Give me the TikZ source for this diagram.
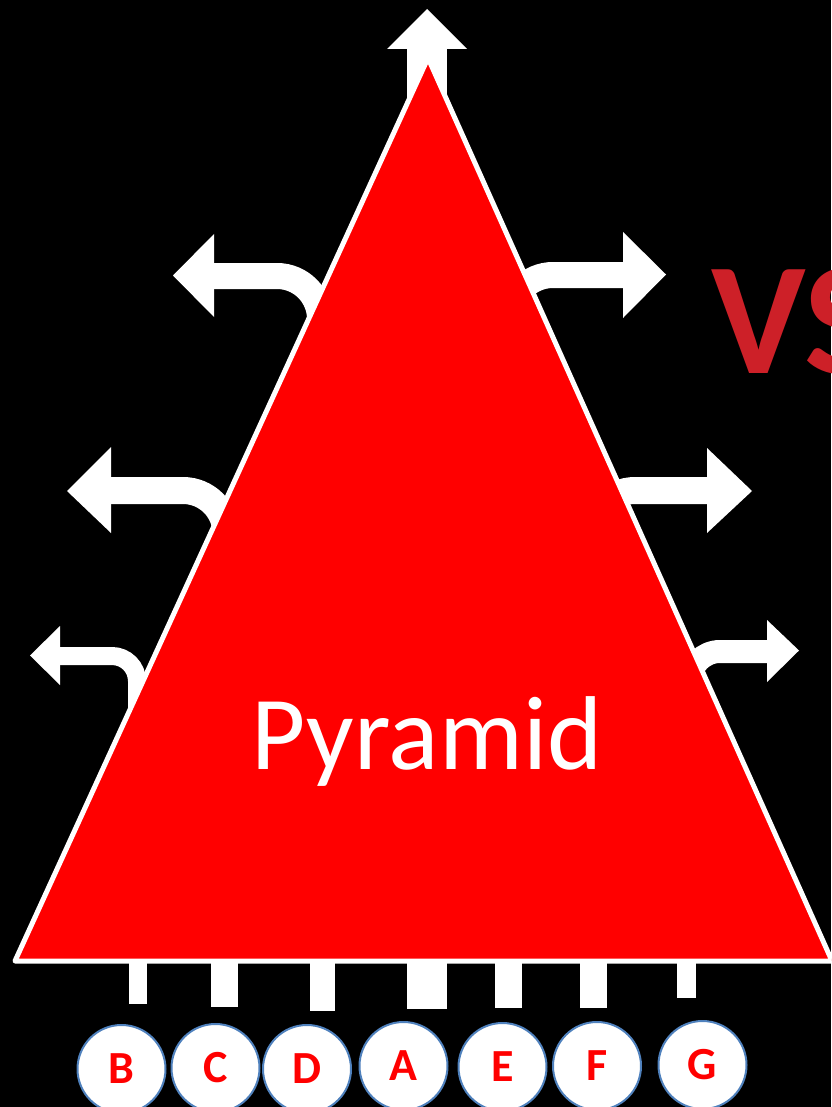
\documentclass[tikz,border=0pt]{standalone}
\usepackage{fontspec}
\setmainfont{Carlito}
\definecolor{pyrred}{RGB}{255,0,0}
\definecolor{vsred}{RGB}{205,32,40}
\definecolor{ringblue}{RGB}{79,129,189}
\begin{document}
\begin{tikzpicture}[x=1pt,y=-1pt,
  shaft/.style={white,line width=#1},
  head/.style={fill=white},
  stub/.style={fill=white},
  pyramid/.style={draw=white,line width=5pt,fill=pyrred,line join=round},
  label/.style={circle,draw=ringblue,line width=2pt,fill=white,minimum size=88pt,inner sep=0pt,
    text=pyrred,font=\bfseries\fontsize{46}{50}\selectfont}]
% canvas
\fill[black] (0,0) rectangle (831,1107);
\useasboundingbox (0,0) rectangle (831,1107);
\clip (0,0) rectangle (831,1107);

% upward arrow at the apex
\draw[shaft=40pt] (427,200) -- (427,48);
\fill[head] (387,49) -- (427,9) -- (467,49) -- cycle;

% bent arrows on the left side
\draw[shaft=26pt,rounded corners=43pt] (320,420) |- (213,276);
\fill[head] (214,234) -- (173,275.5) -- (214,317) -- cycle;
\draw[shaft=27pt,rounded corners=43pt] (226,640) |- (110,490.5);
\fill[head] (111,447) -- (67,491) -- (111,533) -- cycle;
\draw[shaft=18pt,rounded corners=25pt] (137,780) |- (59,656);
\fill[head] (60,626) -- (30,655.5) -- (60,685) -- cycle;

% bent arrows on the right side
\draw[shaft=26pt,rounded corners=43pt] (510,420) |- (624,275);
\fill[head] (623,232) -- (666,274.5) -- (623,318) -- cycle;
\draw[shaft=27pt,rounded corners=43pt] (592,640) |- (708,490.5);
\fill[head] (707,448) -- (752,491) -- (707,533) -- cycle;
\draw[shaft=23pt,rounded corners=30pt] (690,780) |- (768,651.5);
\fill[head] (767,620) -- (799,650.5) -- (767,682) -- cycle;

% stubs under the base
\fill[stub] (129,940) rectangle (147,1004);
\fill[stub] (211,940) rectangle (238,1007);
\fill[stub] (310,940) rectangle (335,1011);
\fill[stub] (407,940) rectangle (447,1009);
\fill[stub] (495,940) rectangle (522,1008);
\fill[stub] (580,940) rectangle (607,1008);
\fill[stub] (677,940) rectangle (696,998);

% the pyramid
\draw[pyramid] (428,58) -- (15,961) -- (832,961) -- cycle;
\node[anchor=base,inner sep=0pt,text=white,font=\fontsize{105}{110}\selectfont] (title) at (427,769) {Pyramid};

% side text, running past the right edge
\node[anchor=base west,inner sep=0pt,text=vsred,font=\bfseries\fontsize{160}{170}\selectfont] (vs) at (711,373) {VS};

% lettered circles
\node[label] (b) at (121.5,1069) {B};
\node[label] (c) at (215.5,1068) {C};
\node[label] (d) at (307,1069) {D};
\node[label] (a) at (403.5,1066) {A};
\node[label] (e) at (502.5,1067) {E};
\node[label] (f) at (597,1066) {F};
\node[label] (g) at (702.5,1065) {G};
\end{tikzpicture}
\end{document}
